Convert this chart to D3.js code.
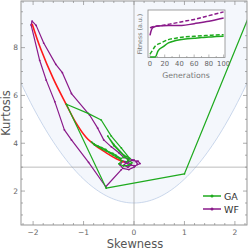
<!DOCTYPE html>
<html>
<head>
<meta charset="utf-8">
<script src="https://cdn.jsdelivr.net/npm/d3@7"></script>
<style>
  body { margin: 0; background: #fff; }
  text { font-family: "DejaVu Sans", sans-serif; }
</style>
</head>
<body>
<div id="chart"></div>
<script>
// ---- data ----
const gaSkew = [2.45, 1.00, -0.55, -1.34, -0.91, -0.65, -0.45, -0.25, -0.09, -0.16, -0.26, -0.36, -0.42, -0.50, -0.56, -0.64, -0.71, -0.79, -0.84, -0.78, -0.70, -0.62, -0.55, -0.47, -0.41, -0.35, -0.29, -0.24, -0.30, -0.21, -0.11, -0.04, -0.12, -0.40, -0.52, -0.40, -0.20, -0.08, -0.15];
const gaKurt = [10.2, 2.72, 2.12, 5.63, 5.25, 4.97, 4.30, 3.80, 3.38, 3.45, 3.36, 3.50, 3.58, 3.64, 3.74, 3.82, 3.88, 3.97, 4.05, 3.92, 3.84, 3.74, 3.68, 3.58, 3.50, 3.42, 3.36, 3.27, 3.14, 3.05, 3.08, 3.18, 3.30, 3.90, 4.30, 3.95, 3.50, 3.36, 3.22];

const wfSkew = [-0.25, -0.56, -0.90, -1.24, -1.38, -1.57, -1.74, -1.87, -2.04, -2.02, -1.94, -1.79, -1.55, -1.42, -1.24, -0.88, -0.72, -0.60, -0.45, -0.30, -0.20, -0.10, 0.00, 0.05, 0.07, 0.00, -0.10, -0.22, -0.28, -0.22, -0.12, -0.05, -0.12, -0.20, -0.15, -0.05, 0.08, 0.12, 0.02, -0.10, -0.18, -0.10];
const wfKurt = [2.90, 2.18, 3.20, 4.14, 4.56, 5.74, 6.64, 7.47, 8.95, 9.11, 8.93, 8.19, 7.30, 6.95, 6.08, 5.18, 4.63, 4.14, 3.85, 3.60, 3.40, 3.35, 3.30, 3.20, 3.12, 3.00, 2.90, 2.95, 3.10, 3.25, 3.22, 3.10, 3.00, 3.08, 3.20, 3.28, 3.25, 3.15, 3.05, 3.10, 3.20, 3.12];

const redSkew = [-2.02, -1.85, -1.60, -1.35, -1.15, -0.95, -0.75, -0.55, -0.35, -0.20];
const redKurt = [9.00, 7.95, 6.70, 5.65, 4.85, 4.25, 3.88, 3.60, 3.35, 3.20];

// inset: fitness vs generations
const gaGen = [0, 7, 11, 18, 25, 35, 48, 60, 70, 80, 90, 100];
const gaFit = [0.0, 0.0, 0.13, 0.22, 0.30, 0.35, 0.385, 0.40, 0.415, 0.425, 0.435, 0.44];
const gaGenD = [0, 3, 7, 15, 25, 35, 48, 60, 70, 80, 90, 100];
const gaFitD = [0.06, 0.13, 0.23, 0.30, 0.37, 0.40, 0.43, 0.44, 0.45, 0.46, 0.47, 0.476];
const wfGen = [0, 2, 4.5, 10, 25, 43, 60, 80, 100];
const wfFit = [0.46, 0.58, 0.63, 0.66, 0.67, 0.67, 0.71, 0.76, 0.83];
const wfGenD = [0, 3, 10, 20, 30, 40, 50, 60, 70, 80, 90, 100];
const wfFitD = [0.62, 0.64, 0.66, 0.68, 0.71, 0.74, 0.77, 0.80, 0.84, 0.88, 0.92, 0.96];

const xTicks = [-2, -1, 0, 1, 2];
const yTicks = [2, 4, 6, 8];
const genTicks = [0, 20, 40, 60, 80, 100];

const green = "#1eaa1e", purple = "#8a1a8a", red = "#ff1a1a";

const W = 248, H = 252;
const m = { left: 21, right: 247, top: 1, bottom: 225 };

const svg = d3.select("#chart").append("svg")
    .attr("width", W).attr("height", H);

const x = d3.scaleLinear().domain([-2.24, 2.24]).range([m.left, m.right]);
const y = d3.scaleLinear().domain([0.58, 9.95]).range([m.bottom, m.top]);

svg.append("clipPath").attr("id", "clip")
    .append("rect")
    .attr("x", m.left).attr("y", m.top)
    .attr("width", m.right - m.left).attr("height", m.bottom - m.top);

const plot = svg.append("g").attr("clip-path", "url(#clip)");

// lower bound curve  k = s^2 + 1.5 and faint shading above it
const sGrid = d3.range(-2.3, 2.31, 0.05);
plot.append("path")
    .datum(sGrid)
    .attr("d", d3.area().x(d => x(d)).y0(y(11)).y1(d => y(d * d + 1.5)))
    .attr("fill", "#f4f7fc");
plot.append("path")
    .datum(sGrid)
    .attr("d", d3.line().x(d => x(d)).y(d => y(d * d + 1.5)))
    .attr("fill", "none").attr("stroke", "#bccde6").attr("stroke-width", 0.8);

// reference lines
plot.append("line")
    .attr("x1", m.left).attr("x2", m.right).attr("y1", y(3)).attr("y2", y(3))
    .attr("stroke", "#aaa").attr("stroke-width", 0.8);
plot.append("line")
    .attr("x1", x(0)).attr("x2", x(0)).attr("y1", m.top).attr("y2", m.bottom)
    .attr("stroke", "#aaa").attr("stroke-width", 0.8);

const line = d3.line().x(d => x(d[0])).y(d => y(d[1]));

const ga = gaSkew.map((s, i) => [s, gaKurt[i]]);
const wf = wfSkew.map((s, i) => [s, wfKurt[i]]);
const rd = redSkew.map((s, i) => [s, redKurt[i]]);

plot.append("path").datum(wf).attr("d", line)
    .attr("fill", "none").attr("stroke", purple).attr("stroke-width", 1.2)
    .attr("stroke-linejoin", "round");
plot.selectAll(".wfpt").data(wf).enter().append("circle")
    .attr("cx", d => x(d[0])).attr("cy", d => y(d[1])).attr("r", 0.9)
    .attr("fill", purple);

plot.append("path").datum(rd)
    .attr("d", d3.line().x(d => x(d[0])).y(d => y(d[1])).curve(d3.curveCatmullRom))
    .attr("fill", "none").attr("stroke", red).attr("stroke-width", 1.6);

plot.append("path").datum(ga).attr("d", line)
    .attr("fill", "none").attr("stroke", green).attr("stroke-width", 1.2)
    .attr("stroke-linejoin", "round");
plot.selectAll(".gapt").data(ga).enter().append("circle")
    .attr("cx", d => x(d[0])).attr("cy", d => y(d[1])).attr("r", 0.9)
    .attr("fill", green);

// frame with inward ticks on all sides
const frameCol = "#8a8a8a";
svg.append("rect")
    .attr("x", m.left).attr("y", m.top)
    .attr("width", m.right - m.left).attr("height", m.bottom - m.top)
    .attr("fill", "none").attr("stroke", frameCol).attr("stroke-width", 0.9);

const xMinor = d3.range(-2.2, 2.21, 0.2).map(v => +v.toFixed(1));
const yMinor = d3.range(1, 9.6, 0.5);
const tk = svg.append("g").attr("stroke", frameCol).attr("stroke-width", 0.7);
xMinor.forEach(v => {
    const major = Math.abs(v - Math.round(v)) < 1e-6;
    const len = major ? 4 : 2;
    tk.append("line").attr("x1", x(v)).attr("x2", x(v))
        .attr("y1", m.bottom).attr("y2", m.bottom - len);
    tk.append("line").attr("x1", x(v)).attr("x2", x(v))
        .attr("y1", m.top).attr("y2", m.top + len);
});
yMinor.forEach(v => {
    const major = v % 2 === 0;
    const len = major ? 4 : 2;
    tk.append("line").attr("x1", m.left).attr("x2", m.left + len)
        .attr("y1", y(v)).attr("y2", y(v));
    tk.append("line").attr("x1", m.right).attr("x2", m.right - len)
        .attr("y1", y(v)).attr("y2", y(v));
});

svg.selectAll(".xt").data(xTicks).enter().append("text")
    .attr("x", d => x(d)).attr("y", 235)
    .attr("text-anchor", "middle").attr("font-size", 7.5).attr("fill", "#666")
    .text(d => d < 0 ? "\u2212" + Math.abs(d) : d);
svg.selectAll(".yt").data(yTicks).enter().append("text")
    .attr("x", 18).attr("y", d => y(d) + 2.7)
    .attr("text-anchor", "end").attr("font-size", 7.5).attr("fill", "#666")
    .text(d => d);

svg.append("text").attr("x", 135).attr("y", 248)
    .attr("text-anchor", "middle").attr("font-size", 11.5).attr("fill", "#555")
    .text("Skewness");
svg.append("text")
    .attr("transform", "translate(10,113) rotate(-90)")
    .attr("text-anchor", "middle").attr("font-size", 11.5).attr("fill", "#555")
    .text("Kurtosis");

// legend
const legend = [["GA", green], ["WF", purple]];
legend.forEach((l, i) => {
    const ly = 196 + i * 13;
    svg.append("line").attr("x1", 203).attr("x2", 221).attr("y1", ly).attr("y2", ly)
        .attr("stroke", l[1]).attr("stroke-width", 1.5);
    svg.append("circle").attr("cx", 212).attr("cy", ly).attr("r", 1.5).attr("fill", l[1]);
    svg.append("text").attr("x", 224).attr("y", ly + 3.5)
        .attr("font-size", 9.5).attr("fill", "#333").text(l[0]);
});

// ---- inset ----
const ix = d3.scaleLinear().domain([-2.7, 101.9]).range([148, 225]);
const iy = d3.scaleLinear().domain([-0.01, 1]).range([57.5, 10]);

svg.append("rect").attr("x", 148).attr("y", 10).attr("width", 77).attr("height", 47.5)
    .attr("fill", "#fff").attr("stroke", frameCol).attr("stroke-width", 0.8);

const iLine = d3.line().x(d => ix(d[0])).y(d => iy(d[1])).curve(d3.curveMonotoneX);
const series = [
    [gaGen, gaFit, green, null],
    [gaGenD, gaFitD, green, "4,2"],
    [wfGen, wfFit, purple, null],
    [wfGenD, wfFitD, purple, "4,2"]
];
series.forEach(s => {
    svg.append("path").datum(s[0].map((g, i) => [g, s[1][i]]))
        .attr("d", iLine).attr("fill", "none")
        .attr("stroke", s[2]).attr("stroke-width", 1.5)
        .attr("stroke-dasharray", s[3]);
});

const itk = svg.append("g").attr("stroke", frameCol).attr("stroke-width", 0.6);
d3.range(0, 101, 10).forEach(v => {
    const len = v % 20 === 0 ? 3 : 1.5;
    itk.append("line").attr("x1", ix(v)).attr("x2", ix(v))
        .attr("y1", 57.5).attr("y2", 57.5 - len);
});
svg.selectAll(".gt").data(genTicks).enter().append("text")
    .attr("x", d => ix(d)).attr("y", 65.5)
    .attr("text-anchor", "middle").attr("font-size", 6.8).attr("fill", "#666")
    .text(d => d);
svg.append("text").attr("x", 186).attr("y", 78)
    .attr("text-anchor", "middle").attr("font-size", 7.8).attr("fill", "#777")
    .text("Generations");
svg.append("text")
    .attr("transform", "translate(141.5,34) rotate(-90)")
    .attr("text-anchor", "middle").attr("font-size", 6.3).attr("fill", "#777")
    .text("Fitness (a.u.)");
</script>
</body>
</html>
